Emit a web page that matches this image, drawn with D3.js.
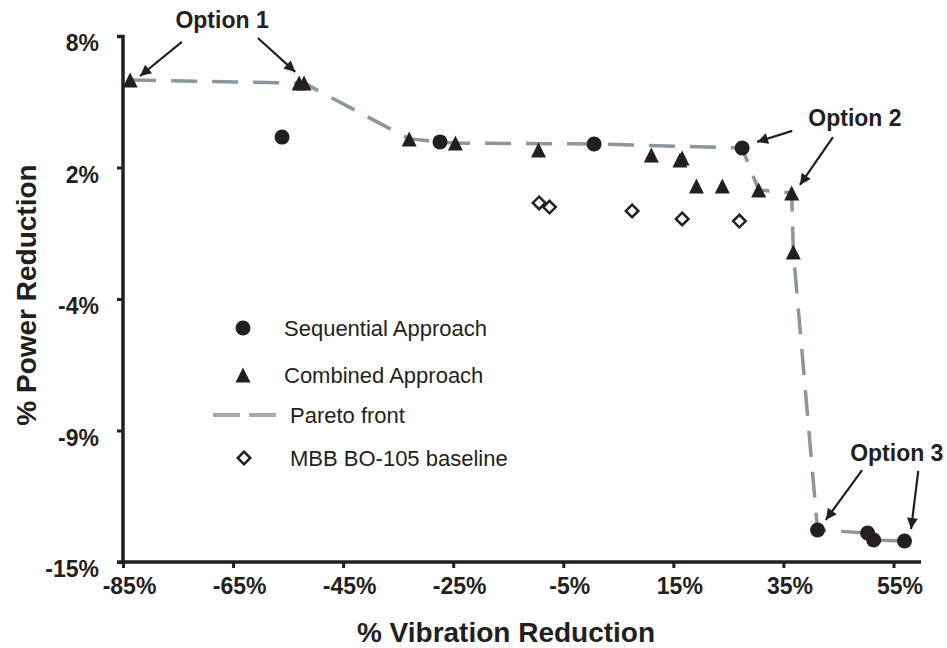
<!DOCTYPE html>
<html>
<head>
<meta charset="utf-8">
<script src="https://cdn.jsdelivr.net/npm/d3@7"></script>
<style>
  body { margin: 0; background: #fff; }
  text { font-family: Arial, "Liberation Sans", sans-serif; fill: #231f20; }
</style>
</head>
<body>
<svg width="947" height="648"></svg>
<script>
// sequential approach (circles): [vibration %, power %]
var sequential = [
  [-56.1, 3.58], [-27.4, 3.37], [0.6, 3.28], [27.5, 3.1],
  [41.2, -13.6], [50.3, -13.73], [51.4, -14.04], [57, -14.08]
];
// combined approach (triangles)
var combined = [
  [-83.7, 6.08], [-53, 5.94], [-52.1, 5.94], [-33, 3.5], [-24.6, 3.32],
  [-9.5, 3.02], [11, 2.8], [16.2, 2.58], [16.6, 2.66], [19.2, 1.44], [23.9, 1.44],
  [30.5, 1.27], [36.5, 1.14], [36.8, -1.44]
];
// MBB BO-105 baseline (diamonds)
var baseline = [
  [-9.4, 0.70], [-7.5, 0.52], [7.5, 0.35], [16.6, 0.0], [27, -0.09]
];
// pareto front
var pareto = [
  [-83.7, 6.08], [-52.1, 5.94], [-33, 3.5], [-27.4, 3.37], [-24.6, 3.32],
  [0.6, 3.28], [27.5, 3.1], [30.5, 1.27], [36.5, 1.14], [36.8, -1.44],
  [41.2, -13.6], [50.3, -13.73], [51.4, -14.04], [57, -14.08]
];

var xTicks = [-85, -65, -45, -25, -5, 15, 35, 55];
var yTicks = [-15, -9.25, -3.5, 2.25, 8];
var yTickLabels = ["-15%", "-9%", "-4%", "2%", "8%"];

// option labels and arrows (data units)
var optionLabels = [
  { text: "Option 1", x: -67.0, y: 8.70 },
  { text: "Option 2", x: 48.0, y: 4.41 },
  { text: "Option 3", x: 55.6, y: -10.23 }
];
var arrows = [
  [[-74.3, 7.74], [-81.9, 6.25]],
  [[-60.5, 7.91], [-53.7, 6.43]],
  [[36.6, 3.85], [30.2, 3.37]],
  [[44.0, 3.58], [38.0, 1.49]],
  [[49.3, -10.98], [42.7, -13.16]],
  [[59.5, -11.02], [58.2, -13.56]]
];

var legendItems = ["Sequential Approach", "Combined Approach", "Pareto front", "MBB BO-105 baseline"];

var svg = d3.select("svg");
var ink = "#231f20", gray = "#8c969c";
var triangle = "M0,-7.5L7.5,7.5L-7.5,7.5Z";

var x = d3.scaleLinear().domain([-85, 60]).range([123, 921]);
var y = d3.scaleLinear().domain([-15, 8]).range([562, 36]);

// axes
var xAxis = svg.append("g")
  .attr("transform", "translate(0,562)")
  .call(d3.axisBottom(x).tickValues(xTicks).tickSize(6).tickPadding(10)
    .tickFormat(function (d) { return d + "%"; }));
var yAxis = svg.append("g")
  .attr("transform", "translate(123,0)")
  .call(d3.axisLeft(y).tickValues(yTicks).tickSize(6).tickPadding(18)
    .tickFormat(function (d, i) { return yTickLabels[i]; }));

[xAxis, yAxis].forEach(function (a) {
  a.select(".domain").attr("stroke", ink).attr("stroke-width", 3.5);
  a.selectAll(".tick line").attr("stroke", ink).attr("stroke-width", 3);
  a.selectAll(".tick text")
    .style("font-family", "Arial, 'Liberation Sans', sans-serif")
    .style("font-size", "23px").style("font-weight", "bold").attr("fill", ink);
});
xAxis.selectAll(".tick text").attr("dx", 6);
yAxis.selectAll(".tick text").attr("dy", "0.65em");
yAxis.select(".domain").attr("d", "M-6,36.5H0V562");
xAxis.select(".domain").attr("d", "M117,0H921");

// titles
svg.append("text")
  .attr("x", 506).attr("y", 642)
  .attr("text-anchor", "middle")
  .style("font-size", "28px").style("font-weight", "bold")
  .text("% Vibration Reduction");
svg.append("text")
  .attr("transform", "translate(36,295)rotate(-90)")
  .attr("text-anchor", "middle")
  .style("font-size", "28px").style("font-weight", "bold")
  .text("% Power Reduction");

// pareto front
var line = d3.line()
  .x(function (d) { return x(d[0]); })
  .y(function (d) { return y(d[1]); });
svg.append("path")
  .datum(pareto)
  .attr("d", line)
  .style("fill", "none")
  .style("stroke", gray)
  .style("stroke-width", 3.5)
  .style("stroke-dasharray", "26,15");

// marks
svg.append("g").selectAll("path")
  .data(baseline).enter().append("path")
  .attr("d", d3.symbol().type(d3.symbolDiamond2).size(100))
  .attr("transform", function (d) { return "translate(" + x(d[0]) + "," + y(d[1]) + ")"; })
  .style("fill", "#fff").style("stroke", ink).style("stroke-width", 2.5);

svg.append("g").selectAll("path")
  .data(combined).enter().append("path")
  .attr("d", triangle)
  .attr("transform", function (d) { return "translate(" + x(d[0]) + "," + y(d[1]) + ")"; })
  .style("fill", ink);

svg.append("g").selectAll("circle")
  .data(sequential).enter().append("circle")
  .attr("cx", function (d) { return x(d[0]); })
  .attr("cy", function (d) { return y(d[1]); })
  .attr("r", 7.5)
  .style("fill", ink);

// annotations
svg.append("defs").append("marker")
  .attr("id", "head")
  .attr("viewBox", "0 0 10 10")
  .attr("refX", 10).attr("refY", 5)
  .attr("markerWidth", 7).attr("markerHeight", 5)
  .attr("markerUnits", "strokeWidth")
  .attr("orient", "auto")
  .append("path").attr("d", "M0,0L10,5L0,10Z").style("fill", ink);

svg.append("g").selectAll("line")
  .data(arrows).enter().append("line")
  .attr("x1", function (d) { return x(d[0][0]); })
  .attr("y1", function (d) { return y(d[0][1]); })
  .attr("x2", function (d) { return x(d[1][0]); })
  .attr("y2", function (d) { return y(d[1][1]); })
  .style("stroke", ink).style("stroke-width", 2.2)
  .attr("marker-end", "url(#head)");

svg.append("g").selectAll("text")
  .data(optionLabels).enter().append("text")
  .attr("x", function (d) { return x(d.x); })
  .attr("y", function (d) { return y(d.y); })
  .attr("dy", "0.36em")
  .attr("text-anchor", "middle")
  .style("font-size", "23px").style("font-weight", "bold")
  .text(function (d) { return d.text; });

// legend
var lg = svg.append("g");
var rowY = [328, 375, 415, 458];
lg.append("circle").attr("cx", 243).attr("cy", rowY[0]).attr("r", 7.5).style("fill", ink);
lg.append("path")
  .attr("d", triangle)
  .attr("transform", "translate(243," + rowY[1] + ")").style("fill", ink);
lg.append("line")
  .attr("x1", 213).attr("x2", 276).attr("y1", rowY[2]).attr("y2", rowY[2])
  .style("stroke", "#a3abb0").style("stroke-width", 4).style("stroke-dasharray", "27,9");
lg.append("path")
  .attr("d", d3.symbol().type(d3.symbolDiamond2).size(100))
  .attr("transform", "translate(244," + rowY[3] + ")")
  .style("fill", "#fff").style("stroke", ink).style("stroke-width", 2.5);
lg.selectAll("text")
  .data(legendItems).enter().append("text")
  .attr("x", function (d, i) { return i < 2 ? 284 : 290; })
  .attr("y", function (d, i) { return rowY[i]; })
  .attr("dy", "0.36em")
  .style("font-size", "22px")
  .text(function (d) { return d; });
</script>
</body>
</html>
